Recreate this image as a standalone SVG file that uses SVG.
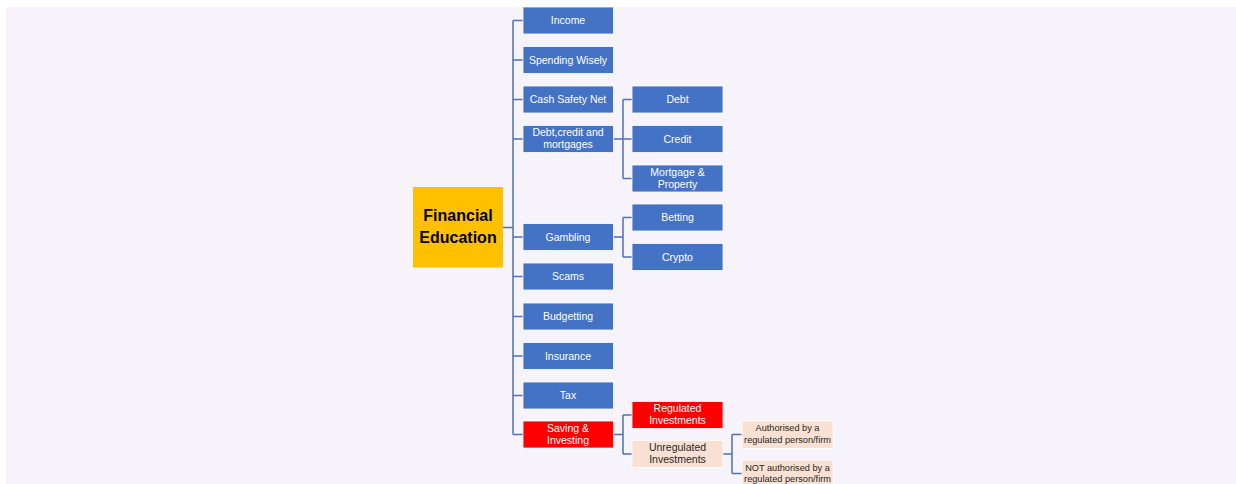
<svg xmlns="http://www.w3.org/2000/svg" width="1236" height="484" viewBox="0 0 1236 484">
<style>
.bg{fill:#F6F3FA}
.b{fill:#4472C4;stroke:#FFFFFF;stroke-width:0.8}
.r{fill:#FF0000;stroke:#FFFFFF;stroke-width:0.8}
.p{fill:#F8E1D2;stroke:#FFFFFF;stroke-width:0.8}
.g{fill:#FFC000}
.t{font-family:"Liberation Sans",Arial,sans-serif;font-size:10.5px;fill:#FFFFFF;text-anchor:middle}
.td{font-family:"Liberation Sans",Arial,sans-serif;font-size:10.5px;fill:#262626;text-anchor:middle}
.ts{font-family:"Liberation Sans",Arial,sans-serif;font-size:9.2px;fill:#262626;text-anchor:middle}
.tf{font-family:"Liberation Sans",Arial,sans-serif;font-size:16px;font-weight:bold;fill:#000000;text-anchor:middle}
.c{fill:none;stroke:#4D72B8;stroke-width:1.5}
</style>
<rect x="0" y="0" width="1236" height="484" fill="#FFFFFF"/>
<rect class="bg" x="6" y="7" width="1230" height="477"/>
<g id="connectors">
<path class="c" d="M503 227.5H513M513 20.5V434.5M513 20.5H523M513 60H523M513 99.5H523M513 139H523M513 237H523M513 276.5H523M513 316.5H523M513 356H523M513 395.5H523M513 434.5H523"/>
<path class="c" d="M613.5 139H623M623 99.5V178.5M623 99.5H632M623 139H632M623 178.5H632"/>
<path class="c" d="M613.5 237H623M623 217.5V257M623 217.5H632M623 257H632"/>
<path class="c" d="M613.5 434.5H623M623 415V454M623 415H632M623 454H632"/>
<path class="c" d="M723 454H732M732 434.5V473.5M732 434.5H742M732 473.5H742"/>
</g>
<g id="financial-education">
<rect class="g" x="413" y="187" width="90" height="80.5"/>
<text class="tf" x="458" y="221">Financial</text>
<text class="tf" x="458" y="243">Education</text>
</g>
<g id="income"><rect class="b" x="523" y="7" width="90.5" height="27"/><text class="t" x="568" y="24.2">Income</text></g>
<g id="spending-wisely"><rect class="b" x="523" y="46.5" width="90.5" height="27"/><text class="t" x="568" y="63.7">Spending Wisely</text></g>
<g id="cash-safety-net"><rect class="b" x="523" y="86" width="90.5" height="27"/><text class="t" x="568" y="103.2">Cash Safety Net</text></g>
<g id="debt-credit-mortgages"><rect class="b" x="523" y="125.5" width="90.5" height="27"/><text class="t" x="568" y="136">Debt,credit and</text><text class="t" x="568" y="148.3">mortgages</text></g>
<g id="gambling"><rect class="b" x="523" y="223.5" width="90.5" height="27"/><text class="t" x="568" y="240.7">Gambling</text></g>
<g id="scams"><rect class="b" x="523" y="263" width="90.5" height="27"/><text class="t" x="568" y="280.2">Scams</text></g>
<g id="budgetting"><rect class="b" x="523" y="303" width="90.5" height="27"/><text class="t" x="568" y="320.2">Budgetting</text></g>
<g id="insurance"><rect class="b" x="523" y="342.5" width="90.5" height="27"/><text class="t" x="568" y="359.7">Insurance</text></g>
<g id="tax"><rect class="b" x="523" y="382" width="90.5" height="27"/><text class="t" x="568" y="399.2">Tax</text></g>
<g id="saving-investing"><rect class="r" x="523" y="421" width="90.5" height="27"/><text class="t" x="568" y="431.5">Saving &amp;</text><text class="t" x="568" y="443.8">Investing</text></g>
<g id="debt"><rect class="b" x="632" y="86" width="91" height="27"/><text class="t" x="677.5" y="103.2">Debt</text></g>
<g id="credit"><rect class="b" x="632" y="125.5" width="91" height="27"/><text class="t" x="677.5" y="142.7">Credit</text></g>
<g id="mortgage-property"><rect class="b" x="632" y="165" width="91" height="27"/><text class="t" x="677.5" y="175.5">Mortgage &amp;</text><text class="t" x="677.5" y="187.8">Property</text></g>
<g id="betting"><rect class="b" x="632" y="204" width="91" height="27"/><text class="t" x="677.5" y="221.2">Betting</text></g>
<g id="crypto"><rect class="b" x="632" y="243.5" width="91" height="27"/><text class="t" x="677.5" y="260.7">Crypto</text></g>
<g id="regulated-investments"><rect class="r" x="632" y="401.5" width="91" height="27"/><text class="t" x="677.5" y="412">Regulated</text><text class="t" x="677.5" y="424.3">Investments</text></g>
<g id="unregulated-investments"><rect class="p" x="632" y="440.5" width="91" height="27"/><text class="td" x="677.5" y="451">Unregulated</text><text class="td" x="677.5" y="463.3">Investments</text></g>
<g id="authorised"><rect class="p" x="742" y="421" width="91" height="27.5"/><text class="ts" x="787.5" y="431.3">Authorised by a</text><text class="ts" x="787.5" y="443">regulated person/firm</text></g>
<g id="not-authorised"><rect class="p" x="742" y="460" width="91" height="27.5"/><text class="ts" x="787.5" y="470.5">NOT authorised by a</text><text class="ts" x="787.5" y="482.2">regulated person/firm</text></g>
</svg>
